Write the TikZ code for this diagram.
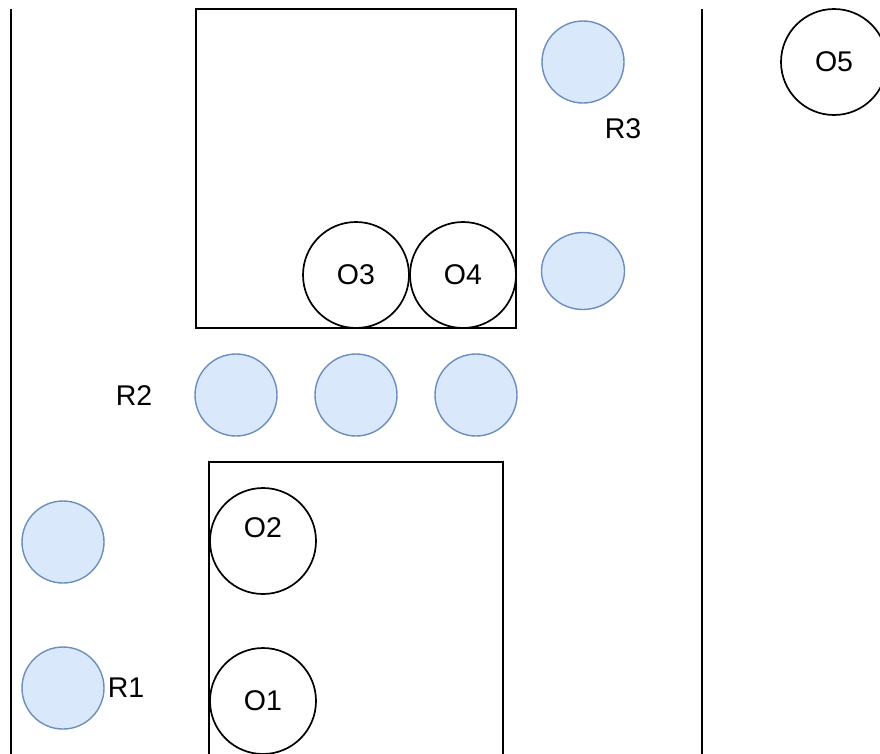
\documentclass[tikz,border=0pt]{standalone}
\usepackage{fontspec}
\setmainfont{Liberation Sans}
\usetikzlibrary{positioning,shapes.geometric}

\definecolor{robline}{HTML}{6C8EBF}
\definecolor{robfill}{HTML}{DAE8FC}

\tikzset{
  wall/.style={draw=black, line width=2pt},
  lbl/.style={font=\fontsize{28.5}{33}\selectfont, inner sep=2pt},
  obj/.style={draw=black, line width=1.7pt, circle, minimum size=106pt, inner sep=0pt,
    font=\fontsize{28.5}{33}\selectfont},
  rob/.style={draw=robline, fill=robfill, line width=1.4pt, circle, minimum size=82pt, inner sep=0pt},
}

\begin{document}
\begin{tikzpicture}[x=1pt,y=-1pt]
\useasboundingbox (0,0) rectangle (880,753);

% walls
\draw[wall] (11,9) -- (11,760);
\draw[wall] (702,9) -- (702,760);

% tables
\draw[wall] (196,9) rectangle (516,328);
\draw[wall] (209,462) rectangle (503,770);

% obstacles
\node[obj] (o3) at (356,275) {O3};
\node[obj] (o4) at (463,275) {O4};
\node[obj, label={[lbl, yshift=13pt]center:O2}] (o2) at (263,541) {};
\node[obj] (o1) at (263,701) {O1};
\node[obj] (o5) at (834,62) {O5};

% robots
\node[rob] (r1a) at (63,542) {};
\node[rob] (r1b) at (63,688) {};
\node[lbl, right=1pt of r1b] (r1) {R1};

\node[rob] (r2a) at (236,395) {};
\node[rob] (r2b) at (356,395) {};
\node[rob] (r2c) at (476,395) {};
\node[lbl] (r2) at (134,396) {R2};

\node[rob] (r3a) at (583,62) {};
\node[rob, ellipse, minimum width=83pt, minimum height=77pt] (r3b) at (583,271) {};
\node[lbl] (r3) at (623,129) {R3};

\end{tikzpicture}
\end{document}
